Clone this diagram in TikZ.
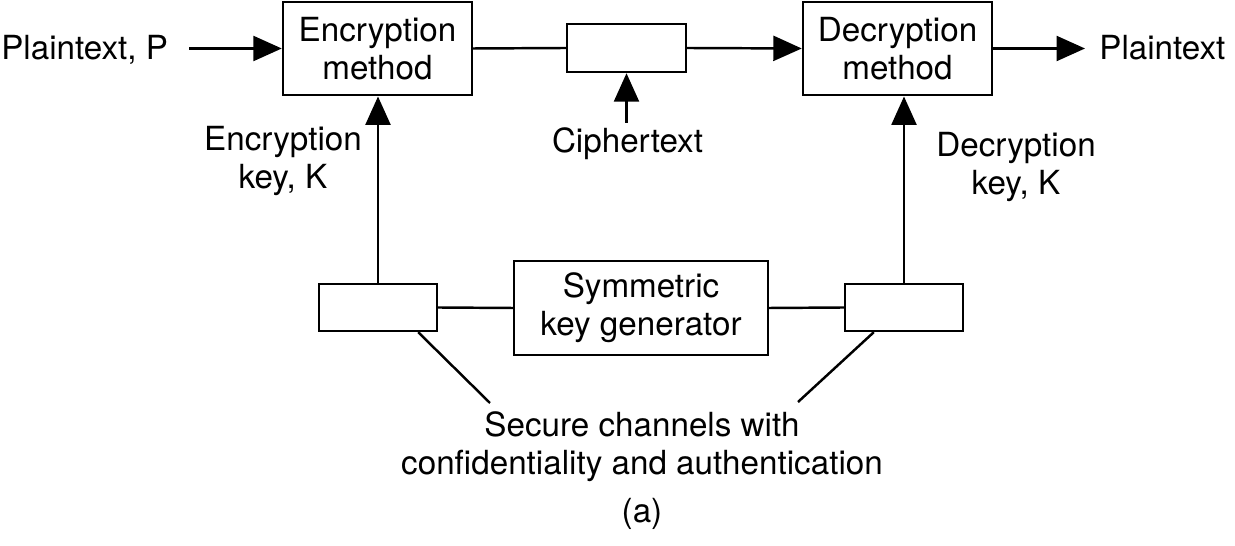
\documentclass[tikz,border=0pt]{standalone}
\usepackage{fontspec}
\setmainfont{TeX Gyre Heros}
\usetikzlibrary{arrows.meta}

\begin{document}
\begin{tikzpicture}
[
    x=0.02cm, y=-0.02cm,
    every node/.style={font=\fontsize{18.9}{21.5}\selectfont},
    blk/.style={draw, line width=1.4pt, inner sep=0pt, align=center},
    txt/.style={inner sep=0pt, align=center},
    arw/.style={line width=1.4pt, -{Triangle[length=0.57cm, width=0.5cm]}},
    lin/.style={line width=1.4pt},
]
\useasboundingbox (0,0) rectangle (1235,546);
\node [blk, minimum width=3.78cm, minimum height=1.87cm] (enc) at (377.5,48.5) {Encryption\\method};
\node [blk, minimum width=2.38cm, minimum height=0.96cm] (ctx) at (626.5,48) {};
\node [blk, minimum width=3.78cm, minimum height=1.87cm] (dec) at (897.5,48.5) {Decryption\\method};
\node [txt, anchor=base west] (ptin) at (1,60) {Plaintext, P};
\node [txt, anchor=base west] (ptout) at (1099,60) {Plaintext};
\node [txt, anchor=base] (ctxlbl) at (627.5,153) {Ciphertext};
\node [txt] (enckey) at (283,161) {Encryption\\key, K};
\node [txt] (deckey) at (1016,167) {Decryption\\key, K};
\node [blk, minimum width=2.36cm, minimum height=0.94cm] (lbox) at (378,307.5) {};
\node [blk, minimum width=5.08cm, minimum height=1.88cm] (keygen) at (641,308) {Symmetric\\key generator};
\node [blk, minimum width=2.36cm, minimum height=0.94cm] (rbox) at (904,307.5) {};
\node [txt] (secure) at (642,447) {Secure channels with\\confidentiality and authentication};
\node [txt, anchor=base] (caption) at (642,523) {(a)};
\coordinate (lend) at (490,403);
\coordinate (rend) at (798,402);
\draw [arw, shorten <=0.42cm] (ptin.east |- enc.west) -- (enc.west);
\draw [lin] (enc.east) -- (ctx.west);
\draw [arw] (ctx.east) -- (dec.west);
\draw [arw, shorten >=0.28cm] (dec.east) -- (ptout.west |- dec.east);
\draw [arw, shorten <=0.1cm] (ctx.south |- ctxlbl.north) -- (ctx.south);
\draw [arw] (lbox.north) -- (lbox.north |- enc.south);
\draw [arw] (rbox.north) -- (rbox.north |- dec.south);
\draw [lin] (lbox.east) -- (keygen.west);
\draw [lin] (keygen.east) -- (rbox.west);
\draw [lin] ([xshift=-0.4cm]lbox.south east) -- (lend);
\draw [lin] ([xshift=0.6cm]rbox.south west) -- (rend);
\end{tikzpicture}
\end{document}
